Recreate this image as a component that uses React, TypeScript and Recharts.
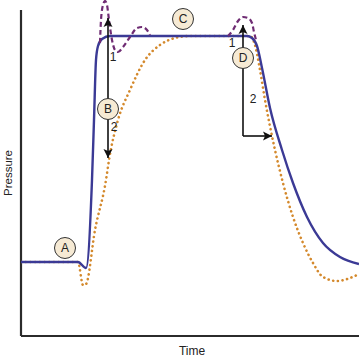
import React from 'react';
import { LineChart, Line, XAxis, YAxis, ReferenceLine, ReferenceDot } from 'recharts';

// time / pressure in arbitrary units
const blueT = [0, 57, 65, 71, 73, 75, 77, 81, 89, 226, 231, 236, 241, 249, 261, 272, 286, 302, 319, 338];
const blueP = [74, 74, 68, 156, 216, 276, 290, 297, 300, 300, 298, 290, 268, 228, 186, 153, 119, 93, 79, 72];

const orangeT = [0, 57, 62, 65, 74, 85, 88, 97, 109, 124, 139, 154, 169, 229, 234, 239, 244, 254, 262, 272, 282, 292, 302, 316, 329, 338];
const orangeP = [74, 74, 51, 52, 106, 156, 176, 216, 246, 276, 291, 298, 300, 300, 291, 266, 236, 186, 153, 119, 93, 73, 59, 55, 58, 62];

const purple1T = [79, 80, 82, 84, 86, 88, 91, 94, 97, 102, 109, 116, 121, 126, 129];
const purple1P = [293, 316, 331, 335, 331, 316, 296, 286, 284, 289, 299, 308, 309, 306, 301];

const purple2T = [207, 212, 217, 222, 227, 231, 233, 235];
const purple2P = [300, 306, 315, 319, 318, 313, 304, 296];

const circleLabels = ['A', 'B', 'C', 'D'];
const circleT = [44, 87, 162, 222];
const circleP = [88, 227, 317, 278];

const numLabels = ['1', '2', '1', '2'];
const numT = [92, 93, 211, 232];
const numP = [279, 209, 293, 237];

const arrowB = { t: 87, pLow: 178, pHigh: 318 };
const arrowD = { t: 222, pTop: 311, pBottom: 200, tEnd: 251 };

const xLabel = 'Time';
const yLabel = 'Pressure';

const toData = (t: number[], p: number[]) => t.map((v, i) => ({ t: v, p: p[i] }));
const blueData = toData(blueT, blueP);
const orangeData = toData(orangeT, orangeP);
const purple1Data = toData(purple1T, purple1P);
const purple2Data = toData(purple2T, purple2P);

const AXIS = '#2b2b2b';
const ARROW = '#111111';

const head = (x: number, y: number, dir: 'up' | 'down' | 'right', key: string) => {
  const L = 9, W = 4.5;
  let pts = '';
  if (dir === 'up') pts = `${x},${y} ${x - W},${y + L} ${x},${y + L - 2} ${x + W},${y + L}`;
  if (dir === 'down') pts = `${x},${y} ${x - W},${y - L} ${x},${y - L + 2} ${x + W},${y - L}`;
  if (dir === 'right') pts = `${x},${y} ${x - L},${y - W} ${x - L + 2},${y} ${x - L},${y + W}`;
  return <polygon key={key} points={pts} fill={ARROW} />;
};

const arrowShape = (heads: ('start' | 'end')[]) => (props: any) => {
  const { x1, y1, x2, y2 } = props;
  const dirOf = (ax: number, ay: number, bx: number, by: number): 'up' | 'down' | 'right' => {
    if (Math.abs(bx - ax) > Math.abs(by - ay)) return 'right';
    return by < ay ? 'up' : 'down';
  };
  return (
    <g>
      <line x1={x1} y1={y1} x2={x2} y2={y2} stroke={ARROW} strokeWidth={1.6} />
      {heads.includes('end') && head(x2, y2, dirOf(x1, y1, x2, y2), 'e')}
      {heads.includes('start') && head(x1, y1, dirOf(x2, y2, x1, y1), 's')}
    </g>
  );
};

const FONT = '"Liberation Sans", Arial, Helvetica, sans-serif';

export default function App() {
  return (
    <div style={{ position: 'absolute', left: 0, top: 0, background: '#fff' }}>
      <LineChart width={359} height={358} margin={{ top: 0, right: 0, left: 21, bottom: 22 }}>
        <XAxis type="number" dataKey="t" domain={[0, 338]} hide allowDataOverflow />
        <YAxis type="number" dataKey="p" domain={[0, 336]} hide allowDataOverflow />
        <ReferenceLine segment={[{ x: 0, y: 0 }, { x: 0, y: 326 }]} stroke={AXIS} strokeWidth={2.2} ifOverflow="visible" />
        <ReferenceLine segment={[{ x: 0, y: 0 }, { x: 338, y: 0 }]} stroke={AXIS} strokeWidth={2.2} ifOverflow="visible" />
        <Line data={orangeData} dataKey="p" type="monotone" stroke="#d4892c" strokeWidth={2.6}
          strokeDasharray="0.1 4.6" strokeLinecap="round" dot={false} isAnimationActive={false} />
        <Line data={blueData} dataKey="p" type="monotone" stroke="#3b3a95" strokeWidth={2.4}
          dot={false} isAnimationActive={false} />
        <Line data={purple1Data} dataKey="p" type="monotone" stroke="#6f2c73" strokeWidth={2.2}
          strokeDasharray="5 3" dot={false} isAnimationActive={false} />
        <Line data={purple2Data} dataKey="p" type="monotone" stroke="#6f2c73" strokeWidth={2.2}
          strokeDasharray="5 3" dot={false} isAnimationActive={false} />
        <ReferenceLine segment={[{ x: arrowB.t, y: arrowB.pLow }, { x: arrowB.t, y: arrowB.pHigh }]}
          ifOverflow="visible" shape={arrowShape(['start', 'end'])} />
        <ReferenceLine segment={[{ x: arrowD.t, y: arrowD.pBottom }, { x: arrowD.t, y: arrowD.pTop }]}
          ifOverflow="visible" shape={arrowShape(['end'])} />
        <ReferenceLine segment={[{ x: arrowD.t, y: arrowD.pBottom }, { x: arrowD.tEnd, y: arrowD.pBottom }]}
          ifOverflow="visible" shape={arrowShape(['end'])} />
        {circleLabels.map((c, i) => (
          <ReferenceDot key={c} x={circleT[i]} y={circleP[i]} r={10.5} fill="#f6ead4" stroke="#333" strokeWidth={1}
            ifOverflow="visible"
            label={{ value: c, position: 'center', fill: '#222', fontSize: 12, fontFamily: FONT }} />
        ))}
        {numLabels.map((n, i) => (
          <ReferenceDot key={'n' + i} x={numT[i]} y={numP[i]} r={0} fill="none" stroke="none"
            ifOverflow="visible"
            label={{ value: n, position: 'center', fill: '#222', fontSize: 12, fontFamily: FONT }} />
        ))}
        <ReferenceDot x={-13} y={163} r={0} ifOverflow="visible"
          shape={(p: any) => (
            <text x={p.cx} y={p.cy} transform={`rotate(-90 ${p.cx} ${p.cy})`} textAnchor="middle"
              dominantBaseline="central" fontSize={11.5} fontFamily={FONT} fill="#222">{yLabel}</text>
          )} />
        <ReferenceDot x={171} y={-15} r={0} ifOverflow="visible"
          shape={(p: any) => (
            <text x={p.cx} y={p.cy} textAnchor="middle" dominantBaseline="central" fontSize={12}
              fontFamily={FONT} fill="#222">{xLabel}</text>
          )} />
      </LineChart>
    </div>
  );
}
